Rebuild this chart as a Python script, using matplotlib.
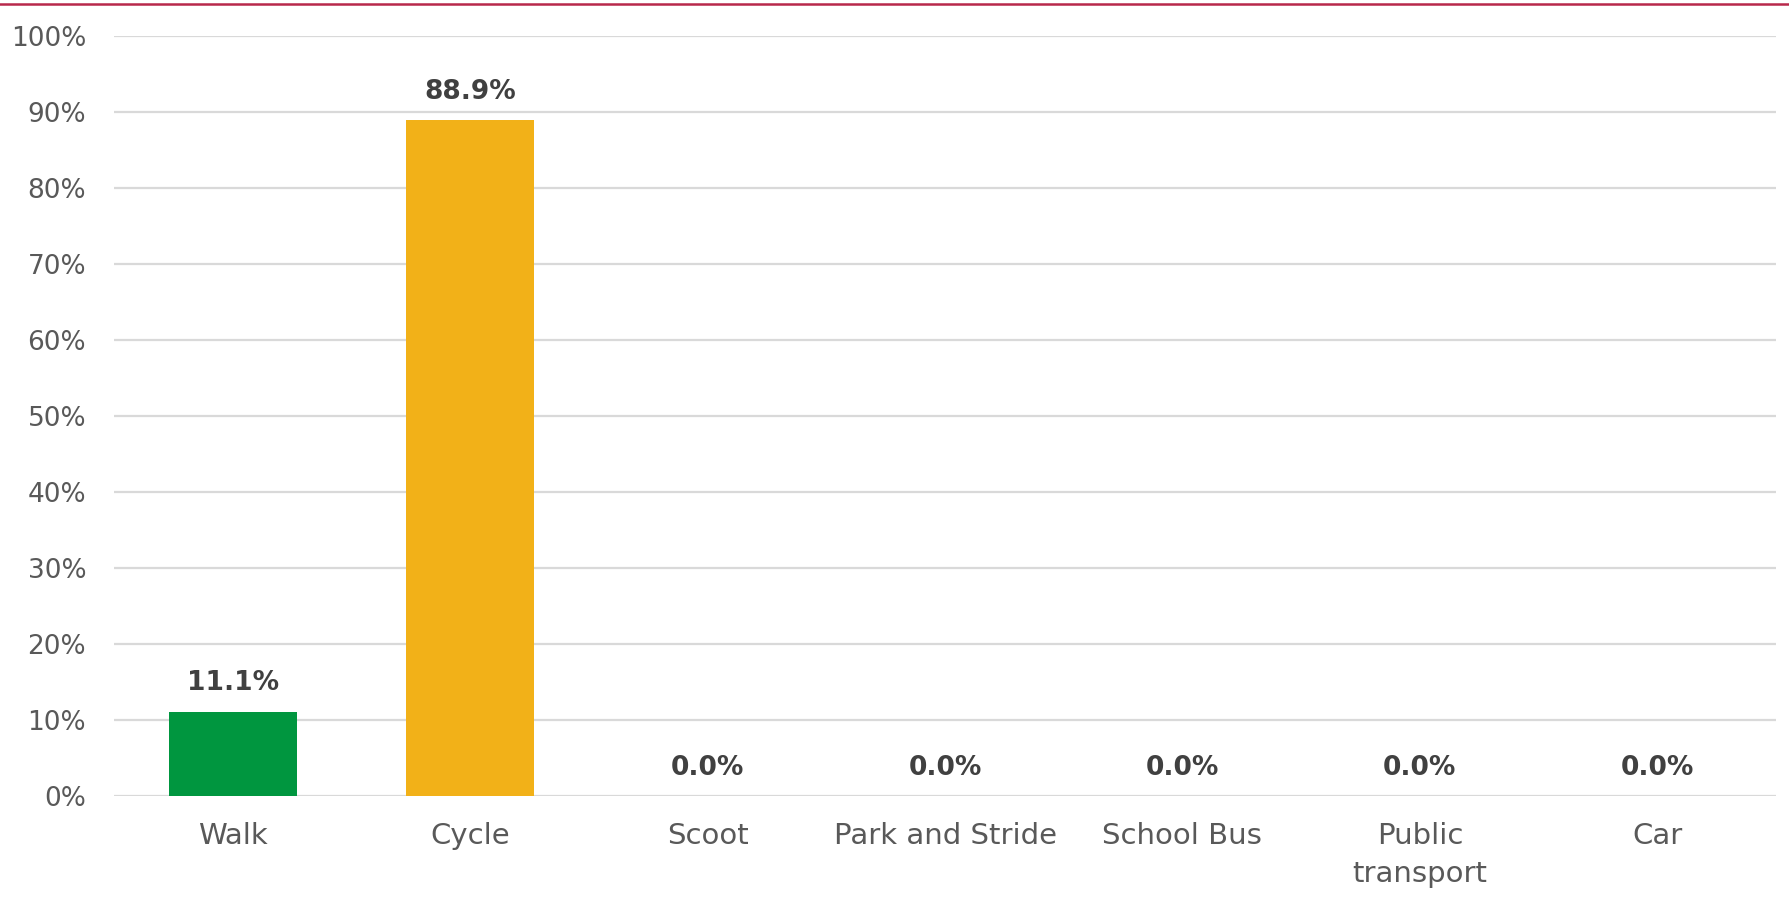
import matplotlib
matplotlib.use("Agg")
import matplotlib.pyplot as plt
from matplotlib.lines import Line2D

categories = ["Walk", "Cycle", "Scoot", "Park and Stride", "School Bus", "Public\ntransport", "Car"]
values = [11.1, 88.9, 0.0, 0.0, 0.0, 0.0, 0.0]
colors = ["#00963F", "#F2B118", "#F2B118", "#F2B118", "#F2B118", "#F2B118", "#F2B118"]
yticks = [0, 10, 20, 30, 40, 50, 60, 70, 80, 90, 100]

plt.rcParams['font.family'] = ['DejaVu Sans']

W, H = 1789, 908
fig = plt.figure(figsize=(W / 100, H / 100), dpi=100)
left, right = 114 / W, 1776 / W
bottom, top = (H - 796) / H, (H - 36) / H
ax = fig.add_axes([left, bottom, right - left, top - bottom])

x = list(range(len(categories)))
ax.bar(x, values, width=0.54, color=colors, zorder=3)
ax.set_xlim(-0.5, len(categories) - 0.5)
ax.set_ylim(0, 100)
ax.set_yticks(yticks)
ax.set_yticklabels([f"{t}%" for t in yticks])
ax.set_xticks(x)
ax.set_xticklabels(categories, linespacing=1.45, fontsize=21)
ax.tick_params(axis='y', length=0, labelsize=19, colors="#595959", pad=20)
ax.tick_params(axis='x', length=0, colors="#595959", pad=19)
ax.yaxis.grid(True, color="#D9D9D9", linewidth=1.6, zorder=0)
for s in ax.spines.values():
    s.set_visible(False)

for xi, v in zip(x, values):
    ax.annotate(f"{v:.1f}%", (xi, v), xytext=(0, 11), textcoords="offset points",
                ha="center", va="bottom", fontsize=19, fontweight="bold", color="#404040")

fig.add_artist(Line2D([0, 1], [1 - 4 / H, 1 - 4 / H], transform=fig.transFigure,
                      color="#B8284B", linewidth=1.8))

fig.savefig("out.png", dpi=100)
